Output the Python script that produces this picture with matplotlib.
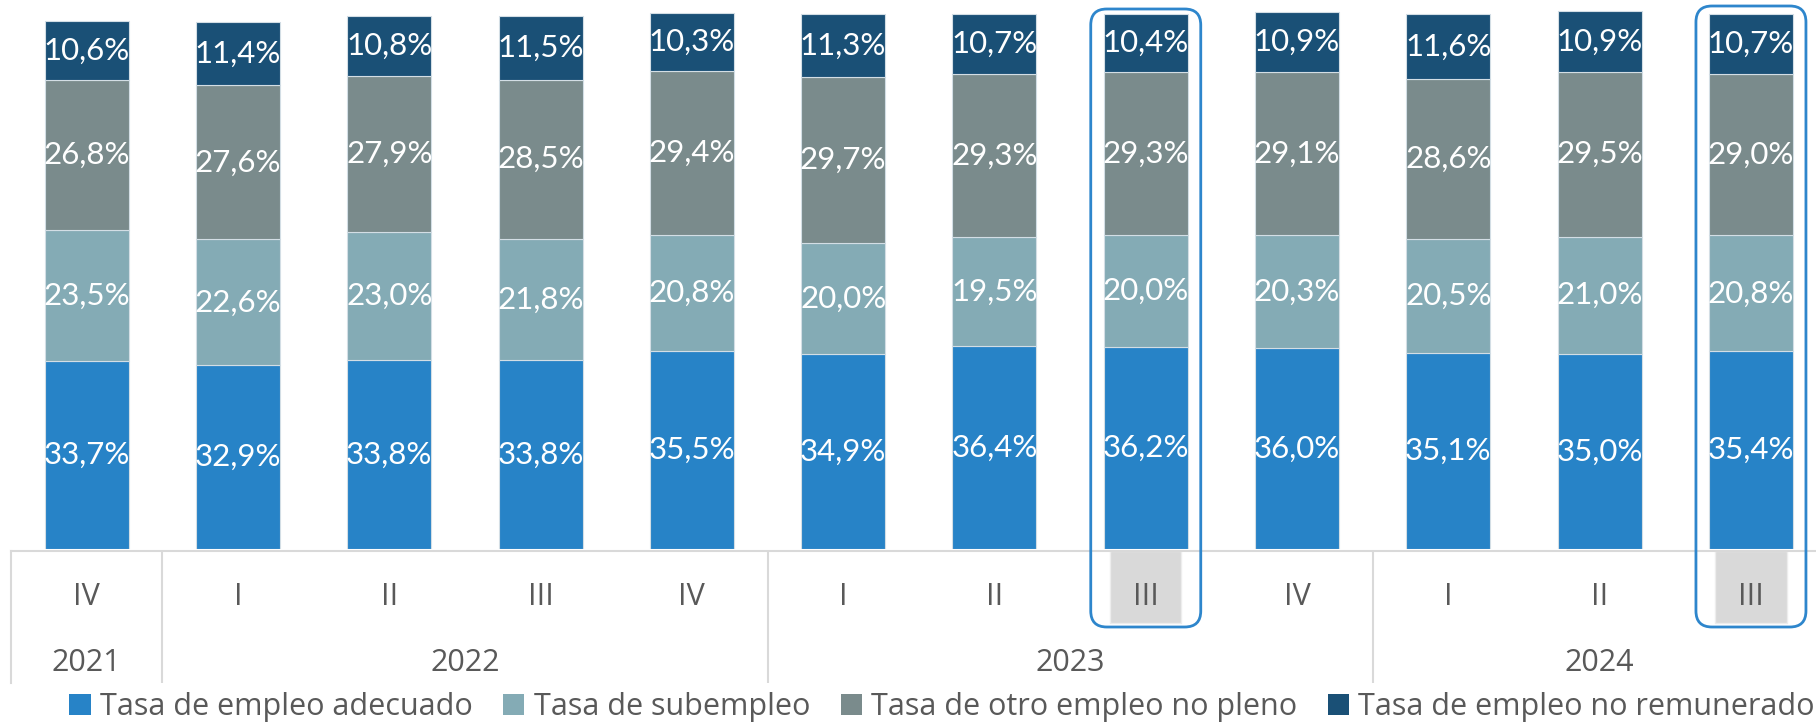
import matplotlib
matplotlib.use("Agg")
import matplotlib.pyplot as plt
from matplotlib.patches import Rectangle, FancyBboxPatch, Patch
from matplotlib.transforms import IdentityTransform
import numpy as np

plt.rcParams['font.family'] = ['Lato', 'DejaVu Sans']
axis_font = ['Open Sans', 'DejaVu Sans']

quarters = ["IV", "I", "II", "III", "IV", "I", "II", "III", "IV", "I", "II", "III"]
years = ["2021", "2022", "2023", "2024"]
year_groups = [[0], [1, 2, 3, 4], [5, 6, 7, 8], [9, 10, 11]]
highlight = [7, 11]

series_names = ["Tasa de empleo adecuado", "Tasa de subempleo",
                "Tasa de otro empleo no pleno", "Tasa de empleo no remunerado"]
adecuado = [33.7, 32.9, 33.8, 33.8, 35.5, 34.9, 36.4, 36.2, 36.0, 35.1, 35.0, 35.4]
subempleo = [23.5, 22.6, 23.0, 21.8, 20.8, 20.0, 19.5, 20.0, 20.3, 20.5, 21.0, 20.8]
otro_no_pleno = [26.8, 27.6, 27.9, 28.5, 29.4, 29.7, 29.3, 29.3, 29.1, 28.6, 29.5, 29.0]
no_remunerado = [10.6, 11.4, 10.8, 11.5, 10.3, 11.3, 10.7, 10.4, 10.9, 11.6, 10.9, 10.7]

colors = ["#2783C7", "#84ABB5", "#7A8B8C", "#1A5076"]
text_gray = "#595959"
line_gray = "#D9D9D9"

W, H = 1816, 724
fig = plt.figure(figsize=(W / 100, H / 100), dpi=100)

unit = 151.3
left_px = 11
width_px = 12 * unit
ax = fig.add_axes([left_px / W, 1 - 549 / H, width_px / W, 549 / H])
ax.set_xlim(-0.5, 11.5)
ax.set_ylim(0, 549 / 5.58)
ax.axis("off")

x = np.arange(len(quarters))
bottom = np.zeros(len(quarters))
data = [adecuado, subempleo, otro_no_pleno, no_remunerado]
for vals, c in zip(data, colors):
    vals = np.array(vals)
    ax.bar(x, vals, bottom=bottom, width=0.555, color=c, edgecolor="#D3DEE5", linewidth=0.8)
    for xi, b, v in zip(x, bottom, vals):
        ax.text(xi, b + v / 2, f"{v:.1f}%".replace(".", ","), ha="center", va="center",
                color="white", fontsize=22.5)
    bottom += vals

# category axis table
cax = fig.add_axes([left_px / W, (H - 683) / H, width_px / W, (683 - 551) / H])
cax.set_xlim(-0.5, 11.5)
cax.set_ylim(0, 1)
cax.set_xticks([]); cax.set_yticks([])
for s in ["bottom", "right"]:
    cax.spines[s].set_visible(False)
for s in ["top", "left"]:
    cax.spines[s].set_color(line_gray)
    cax.spines[s].set_linewidth(1.5)
cax.patch.set_alpha(0)
for g in year_groups[:-1]:
    cax.axvline(g[-1] + 0.5, color=line_gray, lw=1.5)

for i in highlight:
    cax.add_patch(Rectangle((i - 0.235, (683 - 623) / 132), 0.47, 1 - (683 - 623) / 132,
                            facecolor="#D9D9D9", edgecolor="#EDEDED", lw=1, zorder=0))
for xi, q in zip(x, quarters):
    cax.text(xi, (683 - 597) / 132, q, ha="center", va="center", fontsize=22,
             color=text_gray, family=axis_font)
for yr, g in zip(years, year_groups):
    cax.text(np.mean(g), (683 - 663) / 132, yr, ha="center", va="center", fontsize=22,
             color=text_gray, family=axis_font)

# rounded highlight boxes (pixel coordinates)
box_tops = [9, 6]
for i, top in zip(highlight, box_tops):
    xc = ax.transData.transform((i, 0))[0]
    bw = 110
    y0 = H - 627
    y1 = H - top
    fig.add_artist(FancyBboxPatch((xc - bw / 2, y0), bw, y1 - y0,
                                  boxstyle="round,pad=0,rounding_size=16",
                                  transform=IdentityTransform(), facecolor="none",
                                  edgecolor="#2E86CC", lw=2, zorder=10))

handles = [Patch(facecolor=c, edgecolor="none") for c in colors]
fig.legend(handles, series_names, loc="center", bbox_to_anchor=(942 / W, (H - 707) / H),
           ncol=4, frameon=False, prop={'family': axis_font, 'size': 22},
           handlelength=0.7, handleheight=0.7,
           handletextpad=0.3, columnspacing=1.0, labelcolor=text_gray, borderpad=0)

fig.savefig("out.png", dpi=100)
